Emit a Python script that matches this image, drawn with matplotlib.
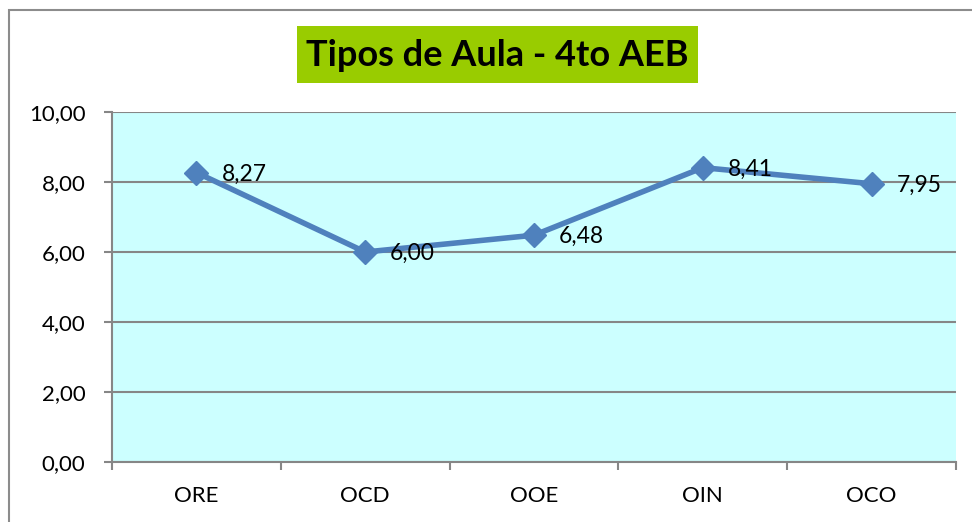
import matplotlib.pyplot as plt
from matplotlib.patches import Rectangle

# data
categories = ["ORE", "OCD", "OOE", "OIN", "OCO"]
values = [8.27, 6.00, 6.48, 8.41, 7.95]
y_ticks = [0, 2, 4, 6, 8, 10]

FONT = "Lato"
GRID = "#868686"
LINE = "#4F81BD"


def fmt(v):
    return f"{v:.2f}".replace(".", ",")


fig = plt.figure(figsize=(9.72, 5.22), dpi=100)
W, H = 972, 522

# outer chart border (cropped on the right and bottom)
fig.patches.append(Rectangle((9 / W, -0.1), 1.2, (H - 10) / H + 0.1,
                             transform=fig.transFigure, fill=False,
                             edgecolor="#8c8c8c", linewidth=1.5))

ax = fig.add_axes([112 / W, 1 - 462 / H, (956 - 112) / W, (462 - 112) / H])
ax.set_facecolor("#CCFFFF")

x = list(range(len(categories)))
ax.plot(x, values, color=LINE, linewidth=4, marker="D", markersize=12,
        zorder=3)
for xi, v in zip(x, values):
    ax.annotate(fmt(v), (xi, v), xytext=(18, -1), textcoords="offset points",
                ha="left", va="center", fontsize=16.5, family=FONT, zorder=4)

ax.set_xlim(-0.5, len(categories) - 0.5)
ax.set_ylim(0, 10)
ax.set_yticks(y_ticks)
ax.set_yticklabels([fmt(t) for t in y_ticks], family=FONT, fontsize=16)
ax.yaxis.grid(True, color=GRID, linewidth=1.5)
ax.set_axisbelow(True)

ax.set_xticks([i - 0.5 for i in range(len(categories) + 1)])
ax.set_xticklabels([])
ax.set_xticks(x, minor=True)
ax.set_xticklabels(categories, minor=True, family=FONT, fontsize=16)
ax.tick_params(axis="x", which="minor", length=0, pad=17)
ax.tick_params(axis="x", which="major", length=6, color=GRID, width=1.5)
ax.tick_params(axis="y", length=6, color=GRID, width=1.5, pad=13)

for s in ["top", "right"]:
    ax.spines[s].set_visible(False)
for s in ["left", "bottom"]:
    ax.spines[s].set_color(GRID)
    ax.spines[s].set_linewidth(1.5)

# title with green box
fig.patches.append(Rectangle((297 / W, 1 - 83 / H), (698 - 297) / W, 57 / H,
                             transform=fig.transFigure, facecolor="#99CC00",
                             edgecolor="none"))
fig.text(497 / W, 1 - 55 / H, "Tipos de Aula - 4to AEB", ha="center",
         va="center", fontsize=26, fontweight="bold", family=FONT)

fig.savefig("out.png", dpi=100, facecolor="white")
